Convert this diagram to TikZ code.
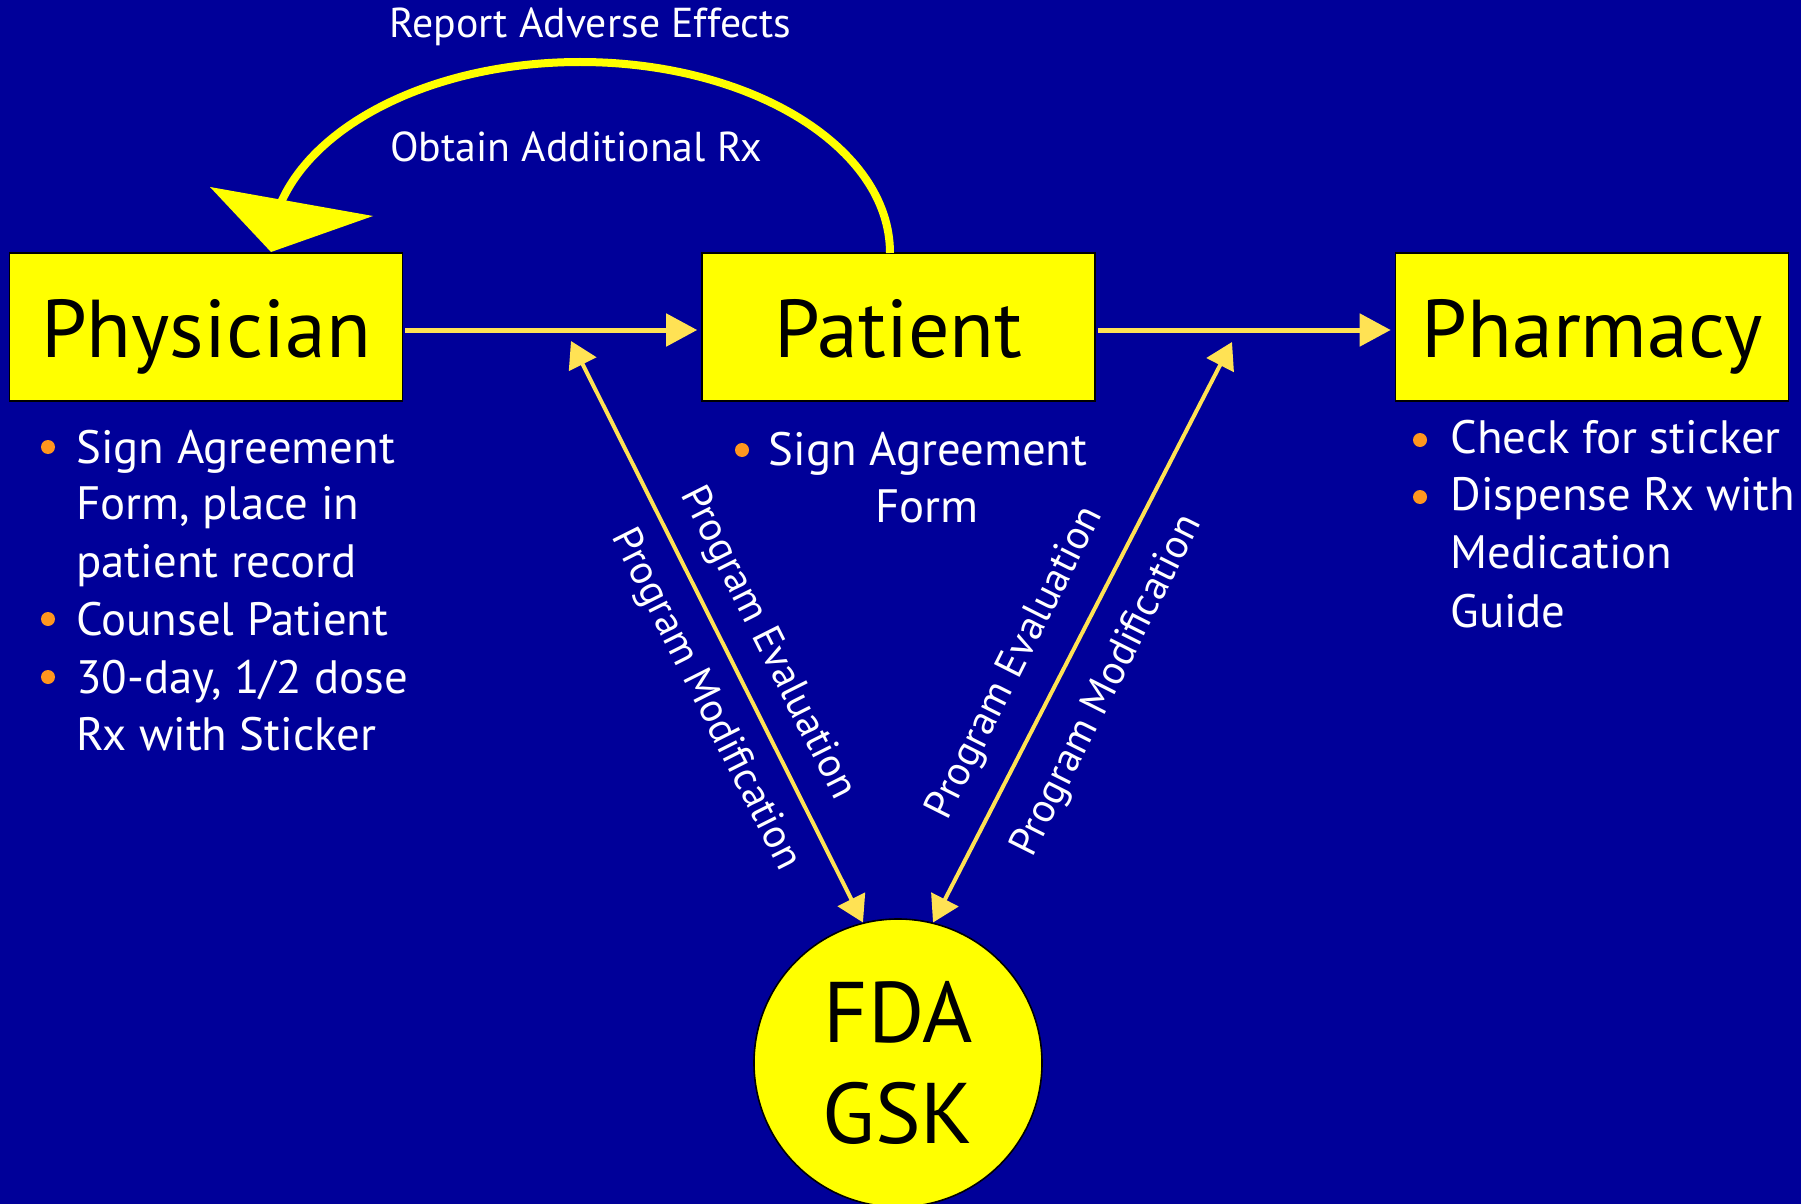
\documentclass[tikz,border=0pt]{standalone}
\usepackage{fontspec}
\setmainfont{PT Sans}
\usetikzlibrary{arrows.meta}
\definecolor{bg}{RGB}{0,0,153}
\definecolor{boxy}{RGB}{255,255,0}
\definecolor{arry}{RGB}{255,226,84}
\definecolor{bulo}{RGB}{255,150,30}
\begin{document}
\begin{tikzpicture}[x=0.5pt,y=-0.5pt,
  box/.style={draw=black, line width=0.8pt, fill=boxy, minimum width=196.5pt, minimum height=74pt, inner sep=0pt, text=black, text height=30pt, text depth=0pt, font=\fontsize{41}{41}\selectfont},
  circ/.style={circle, draw=black, line width=0.8pt, fill=boxy, minimum size=144pt, inner sep=0pt, text=black, align=center, font=\fontsize{43}{50.5}\selectfont},
  harrow/.style={draw=arry, line width=2.5pt, -{Triangle[length=15.5pt,width=16pt]}},
  darrow/.style={draw=arry, line width=2pt, {Triangle[length=13pt,width=15pt]}-{Triangle[length=13pt,width=15pt]}},
  loop/.style={draw=boxy, line width=4pt},
  lbl/.style={text=white, inner sep=0pt, font=\fontsize{20.9}{25}\selectfont},
  dlbl/.style={text=white, inner sep=0pt, font=\fontsize{20.5}{25}\selectfont},
  btxt/.style={text=white, inner sep=0pt, font=\fontsize{23.4}{28}\selectfont},
  bdot/.style={circle, fill=bulo, minimum size=7pt, inner sep=0pt}
]
\useasboundingbox (0,0) rectangle (1801,1204);
\fill[bg] (0,0) rectangle (1801,1204);

% main boxes
\node[box] (phys) at (206,327) {Physician};
\node[box] (pat) at (898.5,327) {Patient};
\node[box] (pharm) at (1592,327) {Pharmacy};
\node[circ] (fda) at (898,1063) {FDA\\GSK};

% horizontal arrows
\draw[harrow, shorten <=1pt, shorten >=2pt] ([yshift=-1.5pt]phys.east) -- ([yshift=-1.5pt]pat.west);
\draw[harrow, shorten <=1pt, shorten >=2pt] ([yshift=-1.5pt]pat.east) -- ([yshift=-1.5pt]pharm.west);

% diagonal double arrows
\coordinate (lt) at (571,341);
\coordinate (rt) at (1232,342);
\draw[darrow] (lt) -- (fda.104);
\draw[darrow] (rt) -- (fda.76);

% feedback loop from Patient back to Physician
\coordinate (arcstart) at (890,253);
\draw[loop] (arcstart) arc[start angle=0, end angle=-168, x radius=310, y radius=191] coordinate (arcend);
\fill[boxy] (210,187) -- (373,216) -- (271,252) -- cycle;

\node[lbl, anchor=base west] (rep) at (389,38) {Report Adverse Effects};
\node[lbl, anchor=base west] (obt) at (390,162) {Obtain Additional Rx};

% diagonal labels
\node[dlbl, rotate=-63.3] (pel) at (767,643) {Program Evaluation};
\node[dlbl, rotate=-63.3] (pml) at (705,700) {Program Modification};
\node[dlbl, rotate=63.3] (per) at (1016,663) {Program Evaluation};
\node[dlbl, rotate=63.3] (pmr) at (1108,686) {Program Modification};

% physician bullets
\node[bdot] (pb1) at (48,447) {};
\node[btxt, anchor=base west] (pt1) at (76,463) {Sign Agreement};
\node[btxt, anchor=base west] (pt2) at (76,519) {Form, place in};
\node[btxt, anchor=base west] (pt3) at (76,577) {patient record};
\node[bdot] (pb2) at (48,619) {};
\node[btxt, anchor=base west] (pt4) at (76,635) {Counsel Patient};
\node[bdot] (pb3) at (48,677) {};
\node[btxt, anchor=base west] (pt5) at (76,693) {30-day, 1/2 dose};
\node[btxt, anchor=base west] (pt6) at (76,750) {Rx with Sticker};

% patient bullet
\node[bdot] (qb1) at (742,450) {};
\node[btxt, anchor=base] (qt1) at (928,465) {Sign Agreement};
\node[btxt, anchor=base] (qt2) at (927,522) {Form};

% pharmacy bullets
\node[bdot] (rb1) at (1420,440) {};
\node[btxt, anchor=base west] (rt1) at (1450,453) {Check for sticker};
\node[bdot] (rb2) at (1420,497) {};
\node[btxt, anchor=base west] (rt2) at (1450,510) {Dispense Rx with};
\node[btxt, anchor=base west] (rt3) at (1450,568) {Medication};
\node[btxt, anchor=base west] (rt4) at (1450,627) {Guide};
\end{tikzpicture}
\end{document}
